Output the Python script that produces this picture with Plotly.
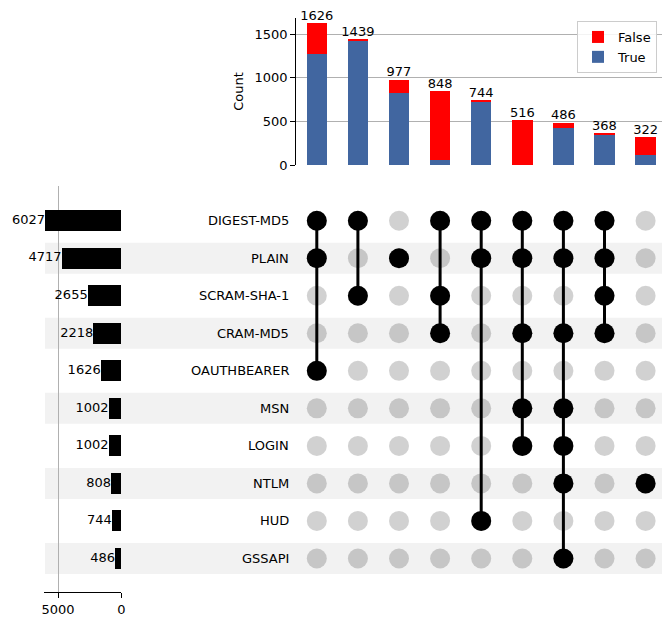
import plotly.graph_objects as go

W, H = 662, 621

categories = ["DIGEST-MD5", "PLAIN", "SCRAM-SHA-1", "CRAM-MD5", "OAUTHBEARER",
              "MSN", "LOGIN", "NTLM", "HUD", "GSSAPI"]
category_totals = [6027, 4717, 2655, 2218, 1626, 1002, 1002, 808, 744, 486]

intersection_totals = [1626, 1439, 977, 848, 744, 516, 486, 368, 322]
true_counts = [1276, 1428, 820, 60, 732, 4, 427, 343, 114]
false_counts = [t - v for t, v in zip(intersection_totals, true_counts)]

memberships = [
    ["DIGEST-MD5", "PLAIN", "OAUTHBEARER"],
    ["DIGEST-MD5", "SCRAM-SHA-1"],
    ["PLAIN"],
    ["DIGEST-MD5", "SCRAM-SHA-1", "CRAM-MD5"],
    ["DIGEST-MD5", "PLAIN", "HUD"],
    ["DIGEST-MD5", "PLAIN", "CRAM-MD5", "MSN", "LOGIN"],
    ["DIGEST-MD5", "PLAIN", "CRAM-MD5", "MSN", "LOGIN", "NTLM", "GSSAPI"],
    ["DIGEST-MD5", "PLAIN", "SCRAM-SHA-1", "CRAM-MD5"],
    ["NTLM"],
]

count_ticks = [0, 500, 1000, 1500]
size_ticks = [0, 5000]

FONT = "DejaVu Sans"
BLUE = "#4166a0"
RED = "#ff0000"
GRID = "#b0b0b0"

def px(x):
    return x / W

def py(y):
    return 1 - y / H

ncol = len(intersection_totals)
nrow = len(categories)
cols = list(range(ncol))
rows = list(range(nrow))

fig = go.Figure()

# --- top stacked bars ---
fig.add_trace(go.Bar(x=cols, y=true_counts, marker_color=BLUE, name="True",
                     width=0.5, xaxis="x", yaxis="y", marker_line_width=0))
fig.add_trace(go.Bar(x=cols, y=false_counts, marker_color=RED, name="False",
                     width=0.5, xaxis="x", yaxis="y", marker_line_width=0))
fig.add_trace(go.Scatter(x=cols, y=intersection_totals, mode="text",
                         text=[str(v) for v in intersection_totals],
                         textposition="top center", cliponaxis=False,
                         textfont=dict(size=13, color="black", family=FONT),
                         showlegend=False, xaxis="x", yaxis="y", hoverinfo="skip"))

# --- left bars ---
fig.add_trace(go.Bar(x=category_totals, y=rows, orientation="h", marker_color="black",
                     width=0.56, showlegend=False, xaxis="x2", yaxis="y2",
                     marker_line_width=0))
fig.add_trace(go.Scatter(x=category_totals, y=rows, mode="text",
                         text=[str(v) for v in category_totals],
                         textposition="middle left", cliponaxis=False,
                         textfont=dict(size=13, color="black", family=FONT),
                         showlegend=False, xaxis="x2", yaxis="y2", hoverinfo="skip"))

# --- matrix ---
gx, gy = [], []
for c in cols:
    for r in rows:
        gx.append(c)
        gy.append(r)
fig.add_trace(go.Scatter(x=gx, y=gy, mode="markers",
                         marker=dict(size=20, color="rgba(0,0,0,0.18)", line_width=0),
                         showlegend=False, xaxis="x3", yaxis="y3", hoverinfo="skip"))
lx, ly = [], []
bx, by = [], []
for c, mem in enumerate(memberships):
    idx = [categories.index(m) for m in mem]
    if len(idx) > 1:
        lx += [c, c, None]
        ly += [min(idx), max(idx), None]
    for r in idx:
        bx.append(c)
        by.append(r)
fig.add_trace(go.Scatter(x=lx, y=ly, mode="lines", line=dict(color="black", width=3),
                         showlegend=False, xaxis="x3", yaxis="y3", hoverinfo="skip"))
fig.add_trace(go.Scatter(x=bx, y=by, mode="markers",
                         marker=dict(size=20, color="black", line_width=0),
                         showlegend=False, xaxis="x3", yaxis="y3", hoverinfo="skip"))

# shading bands
shapes = []
for r in rows:
    if r % 2 == 1:
        shapes.append(dict(type="rect", xref="paper", yref="y3", x0=px(45), x1=1,
                           y0=r - 0.413, y1=r + 0.413, fillcolor="#f2f2f2",
                           line_width=0, layer="below"))

annotations = []
for r, name in enumerate(categories):
    annotations.append(dict(xref="paper", yref="y3", x=px(291), y=r, text=name,
                            showarrow=False, xanchor="right", yanchor="middle",
                            font=dict(size=13, color="black", family=FONT)))

# axis geometry
col0 = 316.8
colsp = 41.1
xr = [-0.5, (W - col0) / colsp]
xdom = [px(col0 - 0.5 * colsp), 1]

row0 = 220.7
rowsp = 37.53
ytop, ybot = 186, 592
yr = [(ybot - row0) / rowsp, (ytop - row0) / rowsp]
ydom = [py(ybot), py(ytop)]

lx0, lx1 = 44, 121.3
pxper = (121.3 - 58) / 5000
xr2 = [(lx1 - lx0) / pxper, 0]

top_bot, top_top = 165, 18
pxper_c = (165 - 34) / 1500
yr1 = [0, (top_bot - top_top) / pxper_c]

hidden = dict(showticklabels=False, showgrid=False, zeroline=False, showline=False,
              ticks="", automargin=False)

fig.update_layout(
    width=W, height=H, autosize=False,
    margin=dict(l=0, r=0, t=0, b=0, pad=0),
    paper_bgcolor="white", plot_bgcolor="rgba(0,0,0,0)",
    font=dict(family=FONT, size=13, color="black"),
    barmode="stack",
    shapes=shapes, annotations=annotations,
    showlegend=True,
    legend=dict(x=px(577), y=py(21), xanchor="left", yanchor="top",
                traceorder="reversed", bgcolor="rgba(255,255,255,0.85)",
                bordercolor="#cccccc", borderwidth=1,
                font=dict(size=13, family=FONT, color="black")),
    xaxis=dict(domain=xdom, range=xr, anchor="y", **hidden),
    yaxis=dict(domain=[py(top_bot), py(top_top)], range=yr1, tickvals=count_ticks,
               showline=True, linecolor="black", linewidth=1, ticks="outside",
               ticklen=5, tickcolor="black", showgrid=True, gridcolor=GRID,
               gridwidth=1, zeroline=False, anchor="x", automargin=False,
               title=dict(text="Count", font=dict(size=13), standoff=8)),
    xaxis2=dict(domain=[px(lx0), px(lx1)], range=xr2, tickvals=size_ticks,
                showline=True, linecolor="black", linewidth=1, ticks="outside",
                ticklen=5, tickcolor="black", showgrid=True, gridcolor=GRID,
                gridwidth=1, zeroline=False, anchor="y2", side="bottom",
                automargin=False),
    yaxis2=dict(domain=ydom, range=yr, anchor="x2", **hidden),
    xaxis3=dict(domain=xdom, range=xr, anchor="y3", **hidden),
    yaxis3=dict(domain=ydom, range=yr, anchor="x3", **hidden),
)

fig.write_html("out.html",
               config={"displayModeBar": False, "responsive": False},
               post_script="document.body.style.margin='0';document.body.style.overflow='hidden';")
